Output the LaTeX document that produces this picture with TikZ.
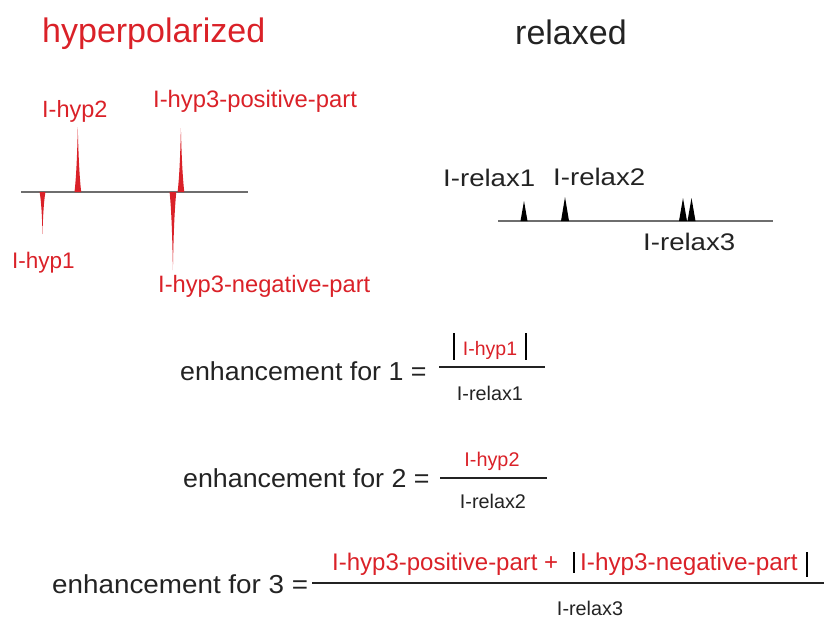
\documentclass[tikz,border=0pt]{standalone}
\usepackage{fontspec}
\setmainfont{Liberation Sans}
\definecolor{hypred}{RGB}{218,33,40}
\definecolor{txt}{RGB}{35,35,35}
\definecolor{axisgray}{RGB}{110,110,110}
\tikzset{
  lbl/.style={inner sep=0pt, anchor=base west},
  redtxt/.style={lbl, text=hypred},
  blktxt/.style={lbl, text=txt},
  axisline/.style={draw=axisgray, line width=1.4pt},
  fracline/.style={draw=txt, line width=2.2pt},
  absbar/.style={draw=black, line width=2pt},
}
\newcommand{\fs}[1]{\fontsize{#1}{#1}\selectfont}
\begin{document}
\begin{tikzpicture}[x=1pt,y=-1pt]
\useasboundingbox (0,0) rectangle (824,619);
% titles
\node[redtxt] (thyp) at (42,42) {\fs{34}hyperpolarized};
\node[blktxt] (trel) at (515,44) {\fs{34}relaxed};
% hyperpolarized spectrum
\draw[axisline] (21,192) -- (248,192);
\fill[hypred] (74.5,192) .. controls (76.5,175) and (77.3,150) .. (77.8,127) .. controls (78.3,150) and (79.2,175) .. (81.2,192) -- cycle;
\fill[hypred] (177.6,192) .. controls (179.6,175) and (180.4,150) .. (180.9,128) .. controls (181.4,150) and (182.3,175) .. (184.3,192) -- cycle;
\fill[hypred] (39.6,192) .. controls (41.3,202) and (42,215) .. (42.5,234) .. controls (43,215) and (43.8,202) .. (45.4,192) -- cycle;
\fill[hypred] (169.6,192) .. controls (171.6,212) and (172.4,240) .. (172.9,270) .. controls (173.4,240) and (174.3,212) .. (176.3,192) -- cycle;
\node[redtxt] (lh2) at (42,117) {\fs{23.5}I-hyp2};
\node[redtxt] (lh3p) at (153,107) {\fs{23.8}I-hyp3-positive-part};
\node[redtxt] (lh1) at (12,268) {\fs{22.5}I-hyp1};
\node[redtxt] (lh3n) at (158,292) {\fs{23.7}I-hyp3-negative-part};
% relaxed spectrum
\draw[axisline] (498,221) -- (773,221);
\fill[black] (520.5,221) -- (524,201) -- (527.5,221) -- cycle;
\fill[black] (561,221) -- (565,197) -- (569,221) -- cycle;
\fill[black] (679,221) -- (683,198) -- (687,221) -- cycle;
\fill[black] (687.5,221) -- (691.5,198) -- (695.5,221) -- cycle;
\node[blktxt] (lr1) at (443,186) {\fs{24}\scalebox{1.15}[1]{I-relax1}};
\node[blktxt] (lr2) at (553,185) {\fs{24}\scalebox{1.15}[1]{I-relax2}};
\node[blktxt] (lr3) at (643,250) {\fs{24}\scalebox{1.15}[1]{I-relax3}};
% equation 1
\node[blktxt] (e1) at (180,380) {\fs{26}\scalebox{1.03}[1]{enhancement for 1 =}};
\draw[fracline] (439,367) -- (545,367);
\draw[absbar] (454,333) -- (454,360);
\draw[absbar] (526,333) -- (526,360);
\node[redtxt, anchor=base] (n1) at (490,355) {\fs{19.5}I-hyp1};
\node[blktxt, anchor=base] (d1) at (490,400) {\fs{19.8}I-relax1};
% equation 2
\node[blktxt] (e2) at (183,487) {\fs{26}\scalebox{1.03}[1]{enhancement for 2 =}};
\draw[fracline] (440,478) -- (547,478);
\node[redtxt, anchor=base] (n2) at (492,466) {\fs{19.8}I-hyp2};
\node[blktxt, anchor=base] (d2) at (493,508) {\fs{19.8}I-relax2};
% equation 3
\node[blktxt] (e3) at (52,593) {\fs{26}\scalebox{1.07}[1]{enhancement for 3 =}};
\draw[fracline] (312,583) -- (824,583);
\node[redtxt] (n3a) at (332,570) {\fs{24}I-hyp3-positive-part +};
\draw[absbar] (574,552) -- (574,573);
\node[redtxt] (n3b) at (580,570) {\fs{24.3}I-hyp3-negative-part};
\draw[absbar] (807,552) -- (807,577);
\node[blktxt, anchor=base] (d3) at (590,615) {\fs{19.8}I-relax3};
\end{tikzpicture}
\end{document}
